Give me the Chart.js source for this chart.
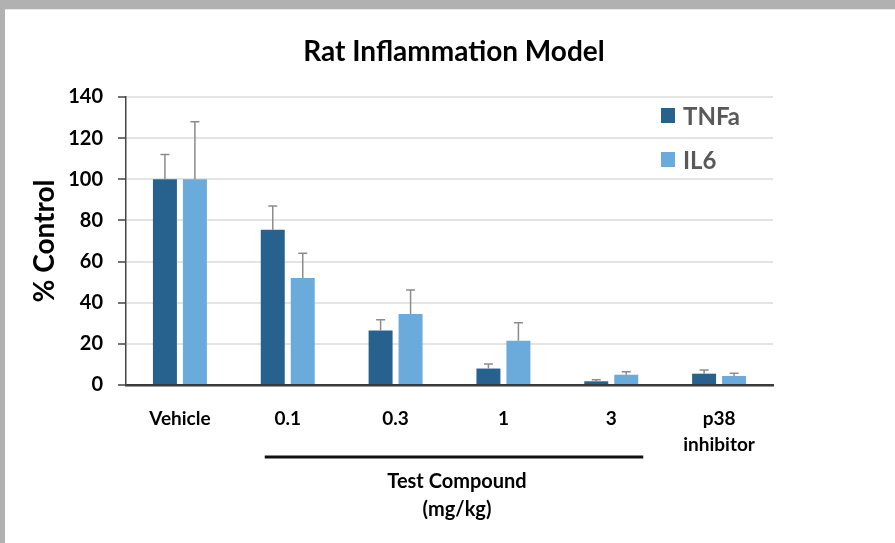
<!DOCTYPE html>
<html>
<head>
<meta charset="utf-8">
<script src="https://cdn.jsdelivr.net/npm/chart.js@4.4.0/dist/chart.umd.min.js"></script>
<style>
  html, body { margin: 0; padding: 0; background: #fff; }
  #ratChart { display: block; }
</style>
</head>
<body>
<canvas id="ratChart" width="895" height="543"></canvas>
<script>
// chart values
const categories = ["Vehicle", "0.1", "0.3", "1", "3", ["p38", "inhibitor"]];
const tnfaValues = [100, 75.5, 26.5, 8, 1.8, 5.5];
const tnfaErrors = [12, 11.5, 5.2, 2.2, 0.8, 1.8];
const il6Values = [100, 52, 34.5, 21.5, 5, 4.4];
const il6Errors = [28, 12, 11.7, 8.7, 1.5, 1.3];
const yTicks = [0, 20, 40, 60, 80, 100, 120, 140];

const FONT = "Lato";

// gray frame behind the white page
const framePlugin = {
  id: "frame",
  beforeDraw(chart) {
    const ctx = chart.ctx;
    ctx.save();
    ctx.fillStyle = "#b1b1b1";
    ctx.fillRect(0, 0, chart.width, chart.height);
    ctx.fillStyle = "#e6e6e6";
    ctx.fillRect(5, 9, chart.width - 5, 2);
    ctx.fillStyle = "#ffffff";
    ctx.fillRect(5, 10, chart.width - 5, chart.height - 10);
    ctx.restore();
  },
};

// upper error bars only
const errorBarPlugin = {
  id: "errorBars",
  afterDatasetsDraw(chart) {
    const ctx = chart.ctx;
    const yScale = chart.scales.y;
    ctx.save();
    ctx.strokeStyle = "#8c8c8c";
    ctx.lineWidth = 1.5;
    chart.data.datasets.forEach((dataset, i) => {
      const meta = chart.getDatasetMeta(i);
      meta.data.forEach((bar, index) => {
        const top = yScale.getPixelForValue(dataset.data[index] + dataset.errors[index]);
        ctx.beginPath();
        ctx.moveTo(bar.x, bar.y);
        ctx.lineTo(bar.x, top);
        ctx.moveTo(bar.x - 4.5, top);
        ctx.lineTo(bar.x + 4.5, top);
        ctx.stroke();
      });
    });
    ctx.restore();
  },
};

// title, legend in the plot and the "Test Compound" bracket
const annotationPlugin = {
  id: "annotations",
  afterDraw(chart) {
    const ctx = chart.ctx;
    const xScale = chart.scales.x;
    ctx.save();
    ctx.textBaseline = "middle";

    ctx.fillStyle = "#000";
    ctx.textAlign = "center";
    ctx.font = "bold 28px " + FONT;
    ctx.fillText("Rat Inflammation Model", 454, 52);

    // legend
    ctx.textAlign = "left";
    ctx.font = "bold 24px " + FONT;
    chart.data.datasets.forEach((dataset, i) => {
      const y = 116 + i * 44;
      ctx.fillStyle = dataset.backgroundColor;
      ctx.fillRect(661, y - 8, 14, 15);
      ctx.fillStyle = "#595959";
      ctx.fillText(dataset.label, 683, y + 1);
    });

    // bracket under the dose groups
    const left = xScale.getPixelForValue(1) - 23;
    const right = xScale.getPixelForValue(4) + 32;
    ctx.strokeStyle = "#111";
    ctx.lineWidth = 3;
    ctx.beginPath();
    ctx.moveTo(left, 457);
    ctx.lineTo(right, 457);
    ctx.stroke();

    ctx.fillStyle = "#000";
    ctx.textAlign = "center";
    ctx.font = "bold 20px " + FONT;
    ctx.fillText("Test Compound", 457, 482);
    ctx.fillText("(mg/kg)", 457, 510);
    ctx.restore();
  },
};

new Chart(document.getElementById("ratChart").getContext("2d"), {
  type: "bar",
  data: {
    labels: categories,
    datasets: [
      {
        label: "TNFa",
        data: tnfaValues,
        errors: tnfaErrors,
        backgroundColor: "#27628e",
        categoryPercentage: 0.556,
        barPercentage: 0.8,
      },
      {
        label: "IL6",
        data: il6Values,
        errors: il6Errors,
        backgroundColor: "#6aabdc",
        categoryPercentage: 0.556,
        barPercentage: 0.8,
      },
    ],
  },
  options: {
    responsive: false,
    animation: false,
    layout: {
      padding: { left: 0, top: 97, right: 122, bottom: 0 },
    },
    scales: {
      x: {
        grid: { display: false, drawTicks: false },
        border: { color: "#3a3a3a", width: 2.5 },
        ticks: {
          padding: 21,
          color: "#000",
          maxRotation: 0,
          autoSkip: false,
          font: { family: FONT, weight: "bold", size: 19, lineHeight: 1.35 },
        },
        afterFit(scale) {
          scale.height = 158;
        },
      },
      y: {
        min: 0,
        max: 140,
        afterBuildTicks(scale) {
          scale.ticks = yTicks.map((v) => ({ value: v }));
        },
        grid: {
          color: "#e4e4e4",
          lineWidth: 2,
          tickColor: "#444",
          tickLength: 8,
          tickWidth: 1.5,
        },
        border: { color: "#444", width: 1.5 },
        ticks: {
          padding: 15,
          color: "#000",
          font: { family: FONT, weight: "bold", size: 20 },
        },
        title: {
          display: true,
          text: "% Control",
          color: "#000",
          padding: { top: 28, bottom: 0 },
          font: { family: FONT, weight: "bold", size: 28 },
        },
        afterFit(scale) {
          scale.width = 126;
        },
      },
    },
    plugins: {
      legend: { display: false },
      tooltip: { enabled: false },
    },
  },
  plugins: [framePlugin, errorBarPlugin, annotationPlugin],
});
</script>
</body>
</html>
